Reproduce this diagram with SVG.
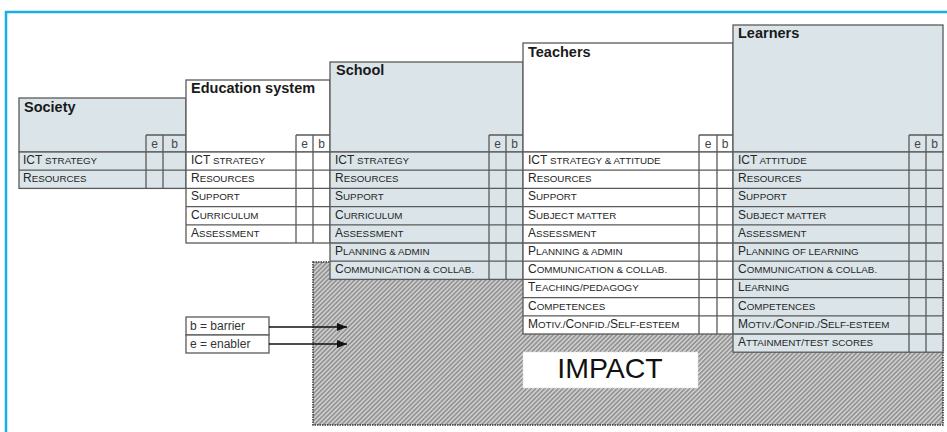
<svg xmlns="http://www.w3.org/2000/svg" width="947" height="432" viewBox="0 0 947 432">
<style>
text{font-family:"Liberation Sans",Arial,sans-serif;fill:#262626}
.t{font-size:14.5px;font-weight:bold;fill:#1a1a1a}
.r{font-size:9.8px}
.L{font-size:12px}
.eb{font-size:12px;text-anchor:middle;fill:#444}
.box{stroke:#5a5a5a;stroke-width:1.3}
.ln{stroke:#5a5a5a;stroke-width:1.3;fill:none}
.blue{fill:#dbe5e9}
.white{fill:#ffffff}
.lg{font-size:12px;fill:#333}
</style>
<defs>
<pattern id="hatch" width="3.2" height="3.2" patternUnits="userSpaceOnUse" patternTransform="rotate(-45)">
<rect width="3.2" height="3.2" fill="#cdcdcd"/>
<rect width="3.2" height="1.5" fill="#909090"/>
</pattern>
<marker id="arr" markerWidth="10" markerHeight="8" refX="10" refY="4" orient="auto" markerUnits="userSpaceOnUse">
<path d="M0,0 L10,4 L0,8 Z" fill="#111"/>
</marker>
</defs>

<rect x="6" y="12" width="960" height="440" fill="#ffffff" stroke="#19aee8" stroke-width="2.5"/>

<g id="impact">
<rect x="313" y="262" width="630" height="163" fill="url(#hatch)" stroke="#333" stroke-width="1.5" stroke-dasharray="1.5,1"/>
<rect x="523" y="352" width="175" height="36" fill="#ffffff" stroke="#dddddd" stroke-width="1" stroke-dasharray="1,1"/>
<text x="610" y="378" font-size="28.5" text-anchor="middle" style="fill:#111">IMPACT</text>
</g>

<g id="society">
<rect class="box blue" x="19" y="98" width="167" height="54"/>
<rect class="box blue" x="19" y="152" width="167" height="36.4"/>
<path class="ln" d="M19,170.2H186 M146,135V188.4 M163,135V188.4 M146,135H186"/>
<text class="t" x="24" y="112">Society</text>
<text class="eb" x="154.5" y="148">e</text><text class="eb" x="174.5" y="148">b</text>
<text class="r" x="23" y="164"><tspan class="L">ICT</tspan> STRATEGY</text>
<text class="r" x="23" y="182.2"><tspan class="L">R</tspan>ESOURCES</text>
</g>

<g id="education-system">
<rect class="box white" x="186" y="80" width="144" height="72"/>
<rect class="box white" x="186" y="152" width="144" height="91"/>
<path class="ln" d="M186,170.2H330 M186,188.4H330 M186,206.6H330 M186,224.8H330 M296,135V243 M313,135V243 M296,135H330"/>
<text class="t" x="191" y="93">Education system</text>
<text class="eb" x="304.5" y="148">e</text><text class="eb" x="321.5" y="148">b</text>
<text class="r" x="191" y="164"><tspan class="L">ICT</tspan> STRATEGY</text>
<text class="r" x="191" y="182.2"><tspan class="L">R</tspan>ESOURCES</text>
<text class="r" x="191" y="200.4"><tspan class="L">S</tspan>UPPORT</text>
<text class="r" x="191" y="218.6"><tspan class="L">C</tspan>URRICULUM</text>
<text class="r" x="191" y="236.8"><tspan class="L">A</tspan>SSESSMENT</text>
</g>

<g id="school">
<rect class="box blue" x="330" y="62" width="193" height="90"/>
<rect class="box blue" x="330" y="152" width="193" height="127.4"/>
<path class="ln" d="M330,170.2H523 M330,188.4H523 M330,206.6H523 M330,224.8H523 M330,243H523 M330,261.2H523 M489,135V279.4 M506,135V279.4 M489,135H523"/>
<text class="t" x="336" y="75">School</text>
<text class="eb" x="497.5" y="148">e</text><text class="eb" x="514.5" y="148">b</text>
<text class="r" x="335" y="164"><tspan class="L">ICT</tspan> STRATEGY</text>
<text class="r" x="335" y="182.2"><tspan class="L">R</tspan>ESOURCES</text>
<text class="r" x="335" y="200.4"><tspan class="L">S</tspan>UPPORT</text>
<text class="r" x="335" y="218.6"><tspan class="L">C</tspan>URRICULUM</text>
<text class="r" x="335" y="236.8"><tspan class="L">A</tspan>SSESSMENT</text>
<text class="r" x="335" y="255"><tspan class="L">P</tspan>LANNING &amp; ADMIN</text>
<text class="r" x="335" y="273.2"><tspan class="L">C</tspan>OMMUNICATION &amp; COLLAB.</text>
</g>

<g id="teachers">
<rect class="box white" x="523" y="43" width="210" height="109"/>
<rect class="box white" x="523" y="152" width="210" height="182"/>
<path class="ln" d="M523,170.2H733 M523,188.4H733 M523,206.6H733 M523,224.8H733 M523,243H733 M523,261.2H733 M523,279.4H733 M523,297.6H733 M523,315.8H733 M699,135V334 M717,135V334 M699,135H733"/>
<text class="t" x="528" y="56.5">Teachers</text>
<text class="eb" x="708" y="148">e</text><text class="eb" x="725" y="148">b</text>
<text class="r" x="528" y="164"><tspan class="L">ICT</tspan> STRATEGY &amp; ATTITUDE</text>
<text class="r" x="528" y="182.2"><tspan class="L">R</tspan>ESOURCES</text>
<text class="r" x="528" y="200.4"><tspan class="L">S</tspan>UPPORT</text>
<text class="r" x="528" y="218.6"><tspan class="L">S</tspan>UBJECT MATTER</text>
<text class="r" x="528" y="236.8"><tspan class="L">A</tspan>SSESSMENT</text>
<text class="r" x="528" y="255"><tspan class="L">P</tspan>LANNING &amp; ADMIN</text>
<text class="r" x="528" y="273.2"><tspan class="L">C</tspan>OMMUNICATION &amp; COLLAB.</text>
<text class="r" x="528" y="291.4"><tspan class="L">T</tspan>EACHING/PEDAGOGY</text>
<text class="r" x="528" y="309.6"><tspan class="L">C</tspan>OMPETENCES</text>
<text class="r" x="528" y="327.8"><tspan class="L">M</tspan>OTIV./<tspan class="L">C</tspan>ONFID./<tspan class="L">S</tspan>ELF-ESTEEM</text>
</g>

<g id="learners">
<rect class="box blue" x="733" y="25" width="210" height="127"/>
<rect class="box blue" x="733" y="152" width="210" height="200.2"/>
<path class="ln" d="M733,170.2H943 M733,188.4H943 M733,206.6H943 M733,224.8H943 M733,243H943 M733,261.2H943 M733,279.4H943 M733,297.6H943 M733,315.8H943 M733,334H943 M909,135V352.2 M926,135V352.2 M909,135H943"/>
<text class="t" x="738" y="38">Learners</text>
<text class="eb" x="917.5" y="148">e</text><text class="eb" x="934.5" y="148">b</text>
<text class="r" x="738" y="164"><tspan class="L">ICT</tspan> ATTITUDE</text>
<text class="r" x="738" y="182.2"><tspan class="L">R</tspan>ESOURCES</text>
<text class="r" x="738" y="200.4"><tspan class="L">S</tspan>UPPORT</text>
<text class="r" x="738" y="218.6"><tspan class="L">S</tspan>UBJECT MATTER</text>
<text class="r" x="738" y="236.8"><tspan class="L">A</tspan>SSESSMENT</text>
<text class="r" x="738" y="255"><tspan class="L">P</tspan>LANNING OF LEARNING</text>
<text class="r" x="738" y="273.2"><tspan class="L">C</tspan>OMMUNICATION &amp; COLLAB.</text>
<text class="r" x="738" y="291.4"><tspan class="L">L</tspan>EARNING</text>
<text class="r" x="738" y="309.6"><tspan class="L">C</tspan>OMPETENCES</text>
<text class="r" x="738" y="327.8"><tspan class="L">M</tspan>OTIV./<tspan class="L">C</tspan>ONFID./<tspan class="L">S</tspan>ELF-ESTEEM</text>
<text class="r" x="738" y="346"><tspan class="L">A</tspan>TTAINMENT/TEST SCORES</text>
</g>

<g id="legend">
<rect class="box white" x="186" y="317" width="83" height="18"/>
<rect class="box white" x="186" y="335" width="83" height="18"/>
<text class="lg" x="190" y="330">b = barrier</text>
<text class="lg" x="190" y="348">e = enabler</text>
</g>

<g id="connectors">
<line x1="269" y1="327" x2="347" y2="327" stroke="#111" stroke-width="1.3" marker-end="url(#arr)"/>
<line x1="269" y1="344" x2="347" y2="344" stroke="#111" stroke-width="1.3" marker-end="url(#arr)"/>
</g>
</svg>
